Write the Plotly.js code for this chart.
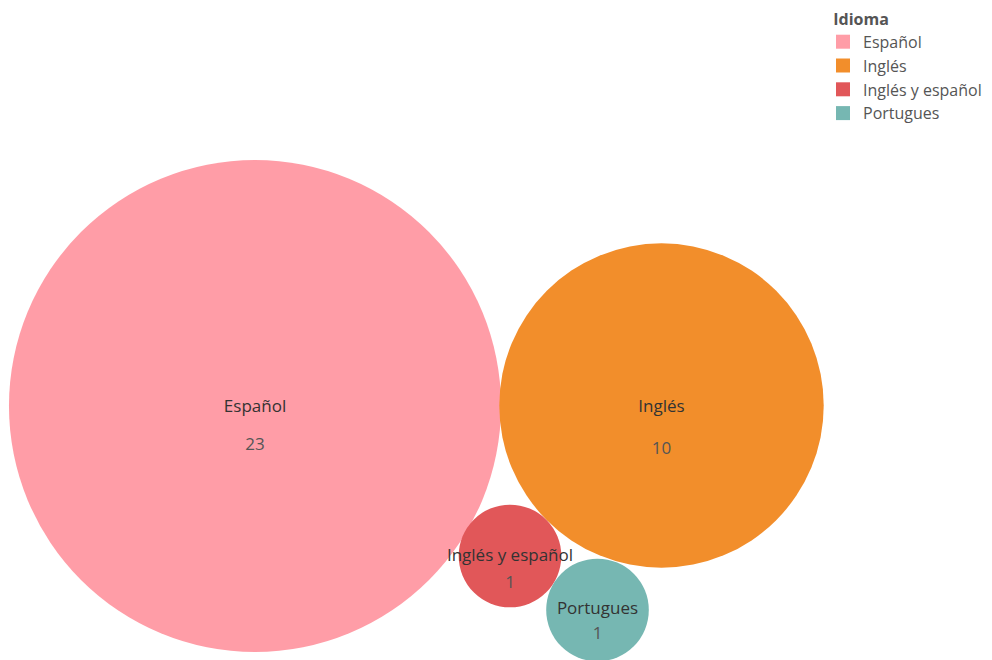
<!DOCTYPE html>
<html>
<head>
<meta charset="utf-8">
<script src="https://cdn.plot.ly/plotly-3.0.1.min.js"></script>
<style>html,body{margin:0;padding:0;background:#fff;}#chart{width:992px;height:660px;}</style>
</head>
<body>
<div id="chart"></div>
<script>
// Data
const categories = ["Español", "Inglés", "Inglés y español", "Portugues"];
const counts = [23, 10, 1, 1];
const legendTitle = "Idioma";

// Styling / layout (not data)
const colors = ["#FF9DA7", "#F28E2B", "#E15759", "#76B7B2"];
const centerX = [255, 661.5, 510, 597.5];
const centerY = [406, 405.5, 556, 610];
const labelDy = [2, 2, 1, 0];
const valueDy = [40, 44, 28, 25];
const radiusPerSqrt = 51.3; // px of radius per sqrt(count)

const traces = [];
categories.forEach((c, i) => {
  const d = 2 * radiusPerSqrt * Math.sqrt(counts[i]);
  traces.push({
    type: "scatter", mode: "markers",
    x: [centerX[i]], y: [centerY[i]],
    marker: {size: d, color: colors[i], opacity: 1, line: {width: 0}},
    showlegend: false, hoverinfo: "text", text: [c + ": " + counts[i]],
    cliponaxis: false
  });
});
// labels
traces.push({
  type: "scatter", mode: "text",
  x: centerX, y: centerX.map((_, i) => centerY[i] + labelDy[i]),
  text: categories,
  textfont: {family: "Open Sans, sans-serif", size: 17, color: "#333333"},
  showlegend: false, hoverinfo: "skip", cliponaxis: false
});
traces.push({
  type: "scatter", mode: "text",
  x: centerX, y: centerX.map((_, i) => centerY[i] + valueDy[i]),
  text: counts.map(String),
  textfont: {family: "Open Sans, sans-serif", size: 17, color: "#555555"},
  showlegend: false, hoverinfo: "skip", cliponaxis: false
});
// legend entries
categories.forEach((c, i) => {
  traces.push({
    type: "scatter", mode: "markers", x: [null], y: [null], name: c,
    legendgroup: "g" + i,
    marker: {symbol: "square", size: 14, color: colors[i]},
    showlegend: true, hoverinfo: "skip"
  });
});

const layout = {
  width: 992, height: 660,
  margin: {l: 0, r: 0, t: 0, b: 0},
  paper_bgcolor: "#ffffff", plot_bgcolor: "#ffffff",
  xaxis: {range: [0, 992], visible: false, fixedrange: true},
  yaxis: {range: [660, 0], visible: false, fixedrange: true},
  font: {family: "Open Sans, sans-serif", color: "#555555"},
  showlegend: true,
  legend: {
    x: 823 / 992, y: 1 - 4 / 660, xanchor: "left", yanchor: "top",
    bgcolor: "rgba(0,0,0,0)",
    font: {family: "Open Sans, sans-serif", size: 16, color: "#555555"},
    title: {text: "&nbsp;&nbsp;<b>" + legendTitle + "</b>", font: {size: 16, color: "#555555"}},
    itemsizing: "trace", itemwidth: 30, tracegroupgap: 0
  }
};

Plotly.newPlot("chart", traces, layout, {displayModeBar: false, staticPlot: true});
</script>
</body>
</html>
